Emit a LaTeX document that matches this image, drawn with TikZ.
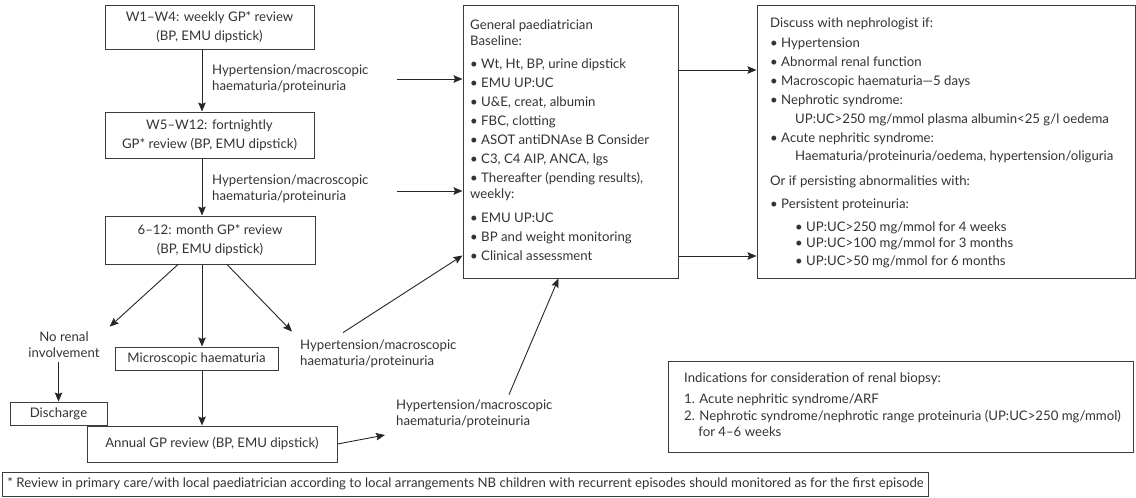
\documentclass[tikz,border=0pt]{standalone}
\usepackage{fontspec}
\setmainfont{Lato}
\usetikzlibrary{arrows.meta}
\definecolor{ink}{HTML}{333333}
\definecolor{rule}{HTML}{3C3C3C}
\newcommand\bodysize{\fontsize{13.2}{16}\selectfont}
\newcommand\boxsize{\fontsize{13.2}{19}\selectfont}
\newcommand\lft[1]{\begin{tabular}[t]{@{}l@{}}#1\end{tabular}}
\newcommand\ctr[1]{\begin{tabular}[t]{@{}c@{}}#1\end{tabular}}
\newcommand\ind{\hspace*{25pt}}
\tikzset{
  box/.style={draw=rule, line width=1pt, inner sep=0pt, text=ink, font=\boxsize, align=center},
  panel/.style={draw=rule, line width=1pt, inner sep=0pt},
  note/.style={inner sep=0pt, text=ink, font=\bodysize},
  flow/.style={draw=black!85, line width=0.9pt, -{Stealth[length=9pt,width=7.5pt,inset=1.5pt]}},
}
\begin{document}
\begin{tikzpicture}[x=1pt,y=-1pt]
\useasboundingbox (0,0) rectangle (1136,498);

% left column: review schedule
\node[box, minimum width=209pt, minimum height=44pt] (wk1) at (209.5,27) {W1–W4: weekly GP* review\\(BP, EMU dipstick)};
\node[box, minimum width=209pt, minimum height=46pt] (wk5) at (209.5,135) {W5–W12: fortnightly\\GP* review (BP, EMU dipstick)};
\node[box, minimum width=210pt, minimum height=48pt] (mon) at (210,240) {6–12: month GP* review\\(BP, EMU dipstick)};
\node[box, minimum width=163pt, minimum height=23pt] (micro) at (196.5,358.5) {Microscopic haematuria};
\node[box, minimum width=97pt, minimum height=23pt] (disch) at (58.5,413.5) {Discharge};
\node[box, minimum width=250pt, minimum height=36pt] (annual) at (212,444) {Annual GP review (BP, EMU dipstick)};

\node[note, anchor=base] (norenal) at (64,341) {\ctr{No renal\\involvement}};

\node[note, anchor=base west] (laba) at (212,74) {\lft{Hypertension/macroscopic\\haematuria/proteinuria}};
\node[note, anchor=base west] (labb) at (212,184) {\lft{Hypertension/macroscopic\\haematuria/proteinuria}};
\node[note, anchor=base west] (labc) at (300,349) {\lft{Hypertension/macroscopic\\haematuria/proteinuria}};
\node[note, anchor=base west] (labd) at (396,409) {\lft{Hypertension/macroscopic\\haematuria/proteinuria}};

% general paediatrician
\node[panel, minimum width=215pt, minimum height=273pt] (paed) at (570.5,141.5) {};
\node[note, anchor=base west] (paedtext) at (470,29) {\lft{%
General paediatrician\\
Baseline:\\[7pt]
• Wt, Ht, BP, urine dipstick\\[3pt]
• EMU UP:UC\\[3pt]
• U\&E, creat, albumin\\[3pt]
• FBC, clotting\\[3pt]
• ASOT antiDNAse B Consider\\[3pt]
• C3, C4 AIP, ANCA, lgs\\[3pt]
• Thereafter (pending results),\\
weekly:\\[8pt]
• EMU UP:UC\\[3pt]
• BP and weight monitoring\\[3pt]
• Clinical assessment}};

% nephrologist criteria
\node[panel, minimum width=378pt, minimum height=273pt] (neph) at (946,141.5) {};
\node[note, anchor=base west] (nephtext) at (770,27) {\lft{%
Discuss with nephrologist if:\\[4pt]
• Hypertension\\[3pt]
• Abnormal renal function\\[3pt]
• Macroscopic haematuria—5 days\\[3pt]
• Nephrotic syndrome:\\[3pt]
\ind UP:UC>250 mg/mmol plasma albumin<25 g/l oedema\\[3pt]
• Acute nephritic syndrome:\\[3pt]
\ind Haematuria/proteinuria/oedema, hypertension/oliguria\\[8pt]
Or if persisting abnormalities with:\\[7pt]
• Persistent proteinuria:\\[8pt]
\ind • UP:UC>250 mg/mmol for 4 weeks\\
\ind • UP:UC>100 mg/mmol for 3 months\\[2pt]
\ind • UP:UC>50 mg/mmol for 6 months}};

% renal biopsy indications
\node[panel, minimum width=465pt, minimum height=91pt] (biopsy) at (900.5,406.5) {};
\node[note, anchor=base west] (biopsytext) at (684,382) {\lft{%
Indications for consideration of renal biopsy:\\[5pt]
1. Acute nephritic syndrome/ARF\\[1pt]
2. Nephrotic syndrome/nephrotic range proteinuria (UP:UC>250 mg/mmol)\\
\hphantom{2.}\ for 4–6 weeks}};

% footnote
\node[box, anchor=west, minimum height=24pt, inner xsep=5pt, font=\bodysize] (foot) at (2,484) {* Review in primary care/with local paediatrician according to local arrangements NB children with recurrent episodes should monitored as for the first episode};

% connectors
\coordinate (xcol) at (202,0);
\coordinate (ina) at (397,79);
\coordinate (inb) at (397,191);
\coordinate (outa) at (0,70);
\coordinate (outb) at (0,256);

\draw[flow] (wk1.south -| xcol) -- (wk5.north -| xcol);
\draw[flow] (wk5.south -| xcol) -- (mon.north -| xcol);
\draw[flow] ([xshift=-32pt]mon.south) -- ([xshift=10pt,yshift=3pt]norenal.north east);
\draw[flow] (mon.south -| xcol) -- (micro.north -| xcol);
\draw[flow] ([xshift=17pt]mon.south) -- ([xshift=-8pt,yshift=6pt]labc.north west);
\draw[flow] (norenal.south -| disch.north) -- (disch.north);
\draw[flow] (micro.south -| xcol) -- (annual.north -| xcol);
\draw[flow] (annual.east) -- ([xshift=-11pt,yshift=-5pt]labd.south west);

\draw[flow] (ina) -- (ina -| paed.west);
\draw[flow] (inb) -- (inb -| paed.west);
\draw[flow] ([xshift=43pt,yshift=5pt]labc.north west) -- ([yshift=23pt]paed.south west);
\draw[flow] ([xshift=113pt,yshift=3pt]labd.north west) -- ([xshift=96pt]paed.south west);

\draw[flow] (outa -| paed.east) -- (outa -| neph.west);
\draw[flow] (outb -| paed.east) -- (outb -| neph.west);
\end{tikzpicture}
\end{document}
